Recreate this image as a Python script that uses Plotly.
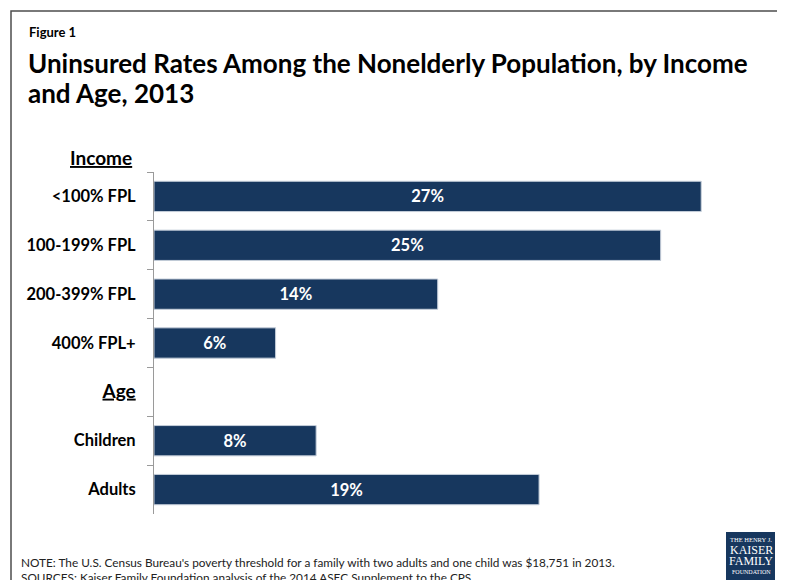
import plotly.graph_objects as go

# ---- data ----
categories = ["<100% FPL", "100-199% FPL", "200-399% FPL", "400% FPL+",
              "<span style='font-size:19px'><u>Age</u></span>", "Children", "Adults"]
values = [27, 25, 14, 6, None, 8, 19]
labels = [f"{v}%" if v is not None else "" for v in values]
group_header = "<u>Income</u>"
fig_label = "Figure 1"
title_lines = ["Uninsured Rates Among the Nonelderly Population, by Income", "and Age, 2013"]
note_text = "NOTE: The U.S. Census Bureau's poverty threshold for a family with two adults and one child was $18,751 in 2013."
source_text = "SOURCES: Kaiser Family Foundation analysis of the 2014 ASEC Supplement to the CPS."

# ---- layout geometry (page has an 8px body margin) ----
W, H = 777, 572
L, T = 146, 164
PW, PH = 608, 342
R = W - L - PW
B = H - T - PH
# helpers: reference-image pixel -> paper coords
def px(x):
    return (x - 154) / PW
def py(y):
    return (514 - y) / PH

FONT = "Lato"
NAVY = "#17375E"

fig = go.Figure(go.Bar(
    y=categories, x=values, orientation="h",
    marker=dict(color=NAVY, line=dict(color="#C5CEDA", width=1)),
    text=labels, textposition="inside", insidetextanchor="middle",
    textangle=0, constraintext="none",
    textfont=dict(family=FONT, size=16.5, color="white", weight="bold"),
    hoverinfo="skip",
))

fig.update_layout(
    width=W, height=H,
    margin=dict(l=L, r=R, t=T, b=B),
    paper_bgcolor="white", plot_bgcolor="white",
    bargap=0.38, showlegend=False,
    font=dict(family=FONT, color="black"),
    xaxis=dict(range=[0, 30], visible=False),
    yaxis=dict(
        type="category", autorange="reversed",
        showline=True, linecolor="#9A9A9A", linewidth=1,
        ticks="outside", tickson="boundaries", ticklen=6, tickcolor="#9A9A9A",
        tickfont=dict(family=FONT, size=16.5, color="black", weight="bold"),
        ticklabelstandoff=14, showgrid=False, zeroline=False,
    ),
)

ann = []
ann.append(dict(text=fig_label, x=px(27), y=py(32), xanchor="left", yanchor="middle",
                font=dict(family=FONT, size=13, weight="bold")))
ann.append(dict(text=title_lines[0], x=px(26), y=py(63), xanchor="left", yanchor="middle",
                font=dict(family=FONT, size=26, weight="bold")))
ann.append(dict(text=title_lines[1], x=px(26), y=py(93), xanchor="left", yanchor="middle",
                font=dict(family=FONT, size=26, weight="bold")))
ann.append(dict(text=group_header, x=px(134), y=py(157), xanchor="right", yanchor="middle",
                font=dict(family=FONT, size=19, weight="bold")))
ann.append(dict(text=note_text, x=px(19), y=py(562), xanchor="left", yanchor="middle",
                font=dict(family=FONT, size=11.8, color="#222")))
ann.append(dict(text=source_text, x=px(19), y=py(577), xanchor="left", yanchor="middle",
                font=dict(family=FONT, size=11.8, color="#222")))
# logo text
SERIF = "Liberation Serif"
ann.append(dict(text="THE HENRY J.", x=px(751), y=py(539), xanchor="center", yanchor="middle",
                font=dict(family=SERIF, size=6.5, color="white")))
ann.append(dict(text="KAISER", x=px(751), y=py(550), xanchor="center", yanchor="middle",
                font=dict(family=SERIF, size=12, color="white")))
ann.append(dict(text="FAMILY", x=px(751), y=py(561), xanchor="center", yanchor="middle",
                font=dict(family=SERIF, size=12, color="white")))
ann.append(dict(text="FOUNDATION", x=px(751), y=py(572), xanchor="center", yanchor="middle",
                font=dict(family=SERIF, size=6, color="white")))
for a in ann:
    a.update(xref="paper", yref="paper", showarrow=False)
fig.update_layout(annotations=ann)

fig.update_layout(shapes=[
    dict(type="rect", xref="paper", yref="paper", x0=px(726), x1=px(775), y0=py(600), y1=py(532),
         line=dict(width=0), fillcolor=NAVY, layer="below"),
    dict(type="rect", xref="paper", yref="paper", x0=px(11), x1=px(781), y0=py(620), y1=py(11),
         line=dict(color="#4D4D4D", width=1.5), fillcolor="rgba(0,0,0,0)", layer="above"),
])

fig.write_html("out.html")
